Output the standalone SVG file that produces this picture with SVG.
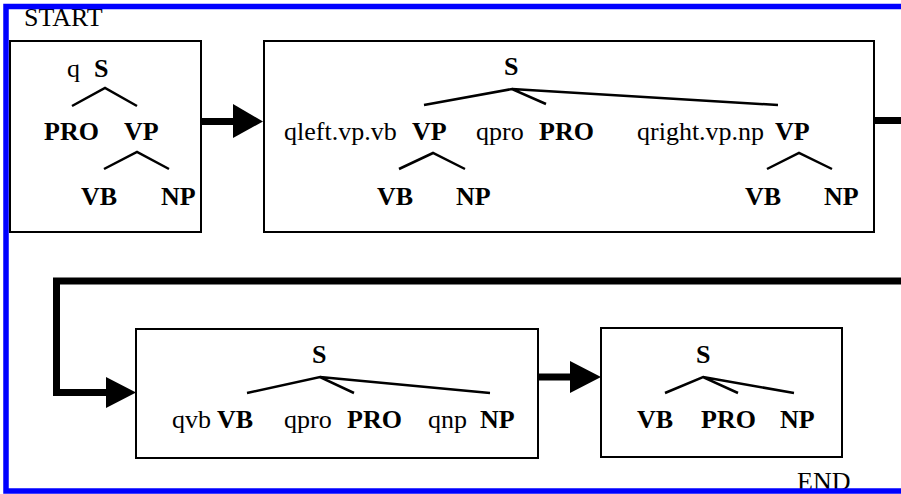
<svg xmlns="http://www.w3.org/2000/svg" width="901" height="494" viewBox="0 0 901 494">
<style>
.box{fill:#fff;stroke:#000;stroke-width:2}
.t{font-family:"Liberation Serif","Times New Roman",serif;font-size:26px;fill:#000}
.b{font-weight:bold}
.tree{stroke:#000;stroke-width:2.5;fill:none}
.conn{stroke:#000;stroke-width:7;fill:none}
.head{fill:#000}
</style>
<rect x="0" y="0" width="901" height="494" fill="#fff"/>
<text class="t" x="24" y="26">START</text>
<text class="t" x="797" y="490">END</text>
<g id="node1">
<rect class="box" x="10" y="41" width="191" height="191"/>
<text class="t" x="67" y="77">q</text><text class="t b" x="94" y="77">S</text>
<path class="tree" d="M72,106 L105,88 L137,106 M104,169 L137,152 L169,169"/>
<text class="t b" x="44" y="140">PRO</text><text class="t b" x="124" y="140">VP</text>
<text class="t b" x="81" y="205">VB</text><text class="t b" x="161" y="205">NP</text>
</g>
<g id="node2">
<rect class="box" x="264" y="41" width="610" height="191"/>
<text class="t b" x="504" y="75">S</text>
<path class="tree" d="M424,105 L512,89 L546,104 M512,89 L778,105 M399,169 L433,153 L465,169 M767,169 L799,153 L832,169"/>
<text class="t" x="284" y="140">qleft.vp.vb</text><text class="t b" x="412" y="140">VP</text>
<text class="t" x="476" y="140">qpro</text><text class="t b" x="539" y="140">PRO</text>
<text class="t" x="637" y="140">qright.vp.np</text><text class="t b" x="775" y="140">VP</text>
<text class="t b" x="377" y="205">VB</text><text class="t b" x="456" y="205">NP</text>
<text class="t b" x="745" y="205">VB</text><text class="t b" x="824" y="205">NP</text>
</g>
<g id="node3">
<rect class="box" x="136" y="329" width="402" height="129"/>
<text class="t b" x="312" y="363">S</text>
<path class="tree" d="M247,393 L320,377 L354,393 M320,377 L490,393"/>
<text class="t" x="172" y="428">qvb</text><text class="t b" x="217" y="428">VB</text>
<text class="t" x="284" y="428">qpro</text><text class="t b" x="347" y="428">PRO</text>
<text class="t" x="428" y="428">qnp</text><text class="t b" x="480" y="428">NP</text>
</g>
<g id="node4">
<rect class="box" x="601" y="328" width="241" height="129"/>
<text class="t b" x="696" y="363">S</text>
<path class="tree" d="M665,393 L703,377 L738,393 M703,377 L794,393"/>
<text class="t b" x="637" y="428">VB</text><text class="t b" x="701" y="428">PRO</text><text class="t b" x="780" y="428">NP</text>
</g>
<g id="connectors">
<path class="conn" d="M201,121.5 H236"/>
<polygon class="head" points="233,104 263,121.5 233,138"/>
<path class="conn" d="M874,120.5 H930 V281 H56.5 V392.5 H109"/>
<polygon class="head" points="106,377 136,392.5 106,408"/>
<path class="conn" d="M538,377 H573"/>
<polygon class="head" points="570,361 601,377 570,393"/>
</g>
<rect x="6" y="6.5" width="1000" height="484.5" fill="none" stroke="#0000ff" stroke-width="5.5"/>
</svg>
